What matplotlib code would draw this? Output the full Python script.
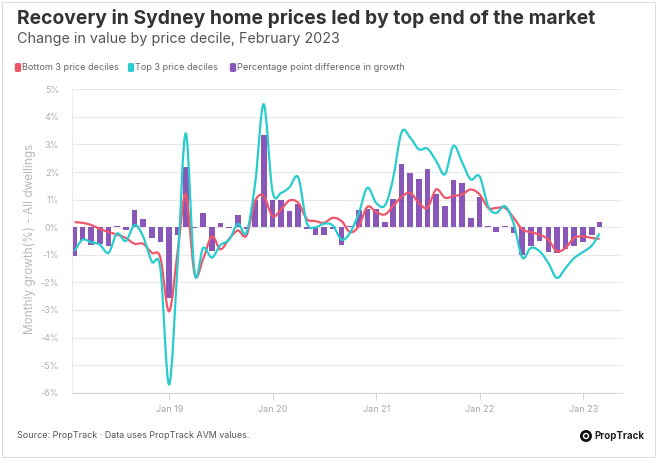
import numpy as np
import pandas as pd
import matplotlib
matplotlib.use("Agg")
import matplotlib.pyplot as plt
import matplotlib.dates as mdates
from matplotlib.path import Path
from matplotlib.patches import PathPatch, Rectangle, FancyBboxPatch, Ellipse

plt.rcParams["font.family"] = ["Inter", "DejaVu Sans"]

# monthly data, Jan 2018 - Feb 2023 (month-end)
months = pd.period_range("2018-01", "2023-02", freq="M").to_timestamp(how="end").normalize()

bottom_3 = [0.18, 0.16, 0.08, -0.06, -0.17, -0.27, -0.39, -0.6, -0.6, -0.93, -1.1, -3.05,
            -0.8, 1.2, -1.7, -1.15, -0.33, -0.8, -0.42, -0.12, -0.3, 0.95, 1.13, 0.4,
            0.65, 0.97, 0.88, 0.3, 0.22, 0.16, 0.34, 0.22, -0.18, 0.04, 0.74, 0.55,
            0.46, 0.76, 1.1, 1.25, 0.88, 0.7, 1.37, 1.07, 1.13, 1.19, 1.37, 1.19,
            0.7, 0.7, 0.7, 0.35, -0.08, -0.18, -0.27, -0.45, -0.87, -0.75, -0.39, -0.33,
            -0.39, -0.42]
top_3 = [-0.87, -0.45, -0.55, -0.63, -0.93, -0.23, -0.5, 0.08, -0.33, -1.25, -1.5, -5.7,
         -1.15, 3.4, -1.65, -0.75, -1.1, -0.65, -0.45, 0.12, -0.2, 1.6, 4.46, 1.3,
         1.25, 1.45, 1.8, 0.16, 0.0, 0.13, 0.06, -0.45, -0.2, 0.52, 1.43, 0.88,
         0.79, 1.73, 3.45, 3.25, 2.82, 2.85, 2.4, 1.92, 2.95, 2.34, 1.73, 1.85,
         0.75, 0.52, 0.76, 0.15, -1.1, -0.75, -0.87, -1.3, -1.84, -1.48, -1.12, -0.9,
         -0.67, -0.23]
pp_diff = [-1.05, -0.48, -0.63, -0.6, -0.67, 0.03, -0.1, 0.62, 0.3, -0.38, -0.55, -2.58,
           -0.3, 2.2, -0.03, 0.52, -0.87, 0.14, -0.03, 0.46, -0.05, 0.97, 3.35, 0.97,
           0.97, 0.6, 0.84, -0.08, -0.27, -0.29, -0.05, -0.66, 0.03, 0.62, 0.67, 0.65,
           0.18, 1.03, 2.28, 1.98, 1.73, 2.1, 1.19, 0.76, 1.72, 1.6, 0.32, 1.1,
           0.03, -0.18, 0.06, -0.2, -1.02, -0.69, -0.51, -0.91, -0.93, -0.79, -0.69, -0.53,
           -0.27, 0.19]

y_ticks = list(range(-6, 6))
x_tick_years = [2019, 2020, 2021, 2022, 2023]

RED = "#f0566b"
CYAN = "#29cccc"
PURPLE = "#8957b8"


def smooth_path(x, y):
    # catmull-rom through the points, as cubic bezier segments
    p = np.column_stack([x, y])
    verts = [p[0]]
    codes = [Path.MOVETO]
    for i in range(len(p) - 1):
        p0 = p[i - 1] if i > 0 else p[i]
        p3 = p[i + 2] if i + 2 < len(p) else p[i + 1]
        c1 = p[i] + (p[i + 1] - p0) / 6
        c2 = p[i + 1] - (p3 - p[i]) / 6
        verts += [c1, c2, p[i + 1]]
        codes += [Path.CURVE4] * 3
    return Path(verts, codes)


W, H = 664, 463
fig = plt.figure(figsize=(W / 100, H / 100), dpi=100)
ax = fig.add_axes([71.7 / W, 1 - 392.7 / H, 550 / W, 303.4 / H])

xnum = mdates.date2num(months)
ax.bar(xnum, pp_diff, width=20, color=PURPLE, zorder=2)
ax.add_patch(PathPatch(smooth_path(xnum, bottom_3), fill=False, edgecolor=RED, lw=1.6, zorder=3))
ax.add_patch(PathPatch(smooth_path(xnum, top_3), fill=False, edgecolor=CYAN, lw=1.6, zorder=4))

ax.set_xlim(mdates.date2num(pd.Timestamp("2018-01-21")), mdates.date2num(pd.Timestamp("2023-05-17")))
ax.set_ylim(-6, 5)
ax.set_yticks(y_ticks)
ax.set_yticklabels([f"{v}%" for v in y_ticks])
ax.set_xticks([mdates.date2num(pd.Timestamp(f"{yr}-01-01")) for yr in x_tick_years])
ax.set_xticklabels([f"Jan {str(yr)[2:]}" for yr in x_tick_years])

ax.grid(axis="y", color="#e9e9e9", lw=0.9)
ax.set_axisbelow(True)
for s in ["top", "right"]:
    ax.spines[s].set_visible(False)
ax.spines["left"].set_color("#ececec")
ax.spines["bottom"].set_color("#d8d8d8")
ax.tick_params(axis="y", length=0, pad=9, labelsize=6.5, labelcolor="#b0b0b0")
ax.tick_params(axis="x", length=5, color="#d8d8d8", pad=4, labelsize=6.5, labelcolor="#a8a8a8")

fig.text(30 / W, 1 - 239 / H, "Monthly growth(%) - All dwellings", rotation=90,
         ha="center", va="center", fontsize=8.5, color="#b8b8b8")

renderer = fig.canvas.get_renderer()


def fit(txt, target):
    w = txt.get_window_extent(renderer).width
    txt.set_fontsize(txt.get_fontsize() * target / w)


t = fig.text(17 / W, 1 - 18 / H, "Recovery in Sydney home prices led by top end of the market",
             fontsize=12, fontweight="bold", color="#333333", va="center")
fit(t, 575)
t = fig.text(17 / W, 1 - 39 / H, "Change in value by price decile, February 2023",
             fontsize=11, color="#555555", va="center")
fit(t, 321)

legend_items = [("Bottom 3 price deciles", RED, 15, 96),
                ("Top 3 price deciles", CYAN, 128, 82),
                ("Percentage point difference in growth", PURPLE, 230, 166)]
for label, col, x0, wtxt in legend_items:
    fig.patches.append(FancyBboxPatch(((x0 + 0.5) / W, 1 - 71.5 / H), 5 / W, 8 / H,
                                      boxstyle="round,pad=0.001,rounding_size=0.003",
                                      transform=fig.transFigure, color=col, lw=0))
    t = fig.text((x0 + 7) / W, 1 - 67.5 / H, label, fontsize=7, color="#666666", va="center")
    fit(t, wtxt)

t = fig.text(17 / W, 1 - 436 / H, "Source: PropTrack \u00b7 Data uses PropTrack AVM values.",
             fontsize=6, color="#555555", va="center")
fit(t, 230)
# logo mark
fig.patches.append(Ellipse((586 / W, 1 - 436 / H), 12 / W, 12 / H, transform=fig.transFigure,
                           color="#111111", lw=0))
fig.patches.append(Ellipse((586 / W, 1 - 436 / H), 5 / W, 5 / H, transform=fig.transFigure,
                           fill=False, edgecolor="white", lw=1.0))
t = fig.text(594 / W, 1 - 436 / H, "PropTrack", fontsize=6, fontweight="bold",
             color="#222222", va="center")
fit(t, 50)

fig.patches.append(Rectangle((2 / W, 1 - 457 / H), 653 / W, 455 / H, transform=fig.transFigure,
                             fill=False, edgecolor="#dddddd", lw=0.8))

fig.savefig("out.png", dpi=100, facecolor="white")
